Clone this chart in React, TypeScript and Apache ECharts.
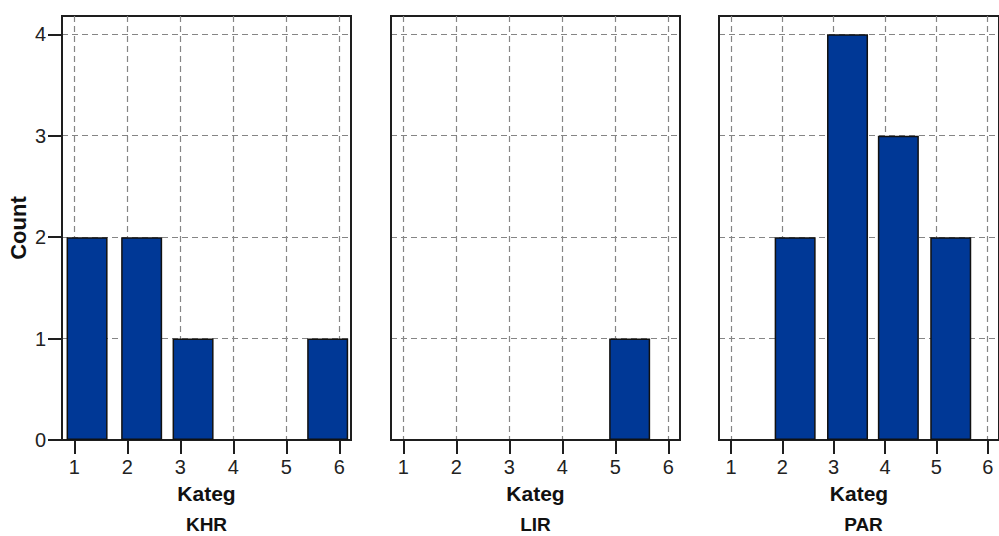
import React, { useEffect, useRef } from "react";
import * as echarts from "echarts";

// Data
const panels = ["KHR", "LIR", "PAR"];
const xTicks = [1, 2, 3, 4, 5, 6];
const yTicks = [0, 1, 2, 3, 4];
const khrX = [1.24, 2.27, 3.24, 5.78];
const khrCount = [2, 2, 1, 1];
const lirX = [5.27];
const lirCount = [1];
const parX = [2.25, 3.27, 4.26, 5.28];
const parCount = [2, 4, 3, 2];
const xName = "Kateg";
const yName = "Count";

const seriesX = [khrX, lirX, parX];
const seriesY = [khrCount, lirCount, parCount];

const FONT = "Liberation Sans, Arial, sans-serif";
const GRID_LEFTS = [62, 391, 719];
const GRID_W = 289;
const GRID_TOP = 16;
const GRID_H = 424;

export default function App() {
  const ref = useRef<HTMLDivElement>(null);
  useEffect(() => {
    if (!ref.current) return;
    const chart = echarts.init(ref.current, undefined, { renderer: "svg" });
    const grids = GRID_LEFTS.map((left) => ({
      left,
      top: GRID_TOP,
      width: GRID_W,
      height: GRID_H,
      show: true,
      borderColor: "#1e1e1e",
      borderWidth: 2,
      backgroundColor: "transparent",
      containLabel: false,
    }));
    const xAxes = panels.map((_, i) => ({
      type: "value",
      gridIndex: i,
      min: 0.767,
      max: 6.22,
      name: xName,
      nameLocation: "middle",
      nameGap: 43,
      nameTextStyle: { fontFamily: FONT, fontSize: 21, fontWeight: "bold", color: "#111" },
      axisLine: { show: true, onZero: false, lineStyle: { color: "#1e1e1e", width: 2 } },
      axisTick: { show: true, customValues: xTicks, length: 14, inside: false, lineStyle: { color: "#1e1e1e", width: 2 } },
      axisLabel: { show: true, customValues: xTicks, margin: 17, fontFamily: FONT, fontSize: 20, color: "#222" },
      splitLine: { show: true, lineStyle: { color: "#858585", type: [6, 4], width: 1.2 } },
    }));
    const yAxes = panels.map((_, i) => ({
      type: "value",
      gridIndex: i,
      min: 0,
      max: 4.18,
      name: i === 0 ? yName : "",
      nameLocation: "middle",
      nameRotate: 90,
      nameGap: 33,
      nameTextStyle: { fontFamily: FONT, fontSize: 22, fontWeight: "bold", color: "#111" },
      axisLine: { show: true, lineStyle: { color: "#1e1e1e", width: 2 } },
      axisTick: { show: i === 0, customValues: yTicks, length: 14, inside: false, lineStyle: { color: "#1e1e1e", width: 2 } },
      axisLabel: { show: i === 0, customValues: yTicks, margin: 16, fontFamily: FONT, fontSize: 20, color: "#222" },
      splitLine: { show: true, lineStyle: { color: "#858585", type: [6, 4], width: 1.2 } },
    }));
    const series = panels.map((p, i) => ({
      type: "bar",
      name: p,
      xAxisIndex: i,
      yAxisIndex: i,
      barWidth: 41,
      data: seriesX[i].map((x, j) => [x, seriesY[i][j]]),
      itemStyle: { color: "#003896", borderColor: "#111", borderWidth: 1.5 },
    }));
    const graphic = panels.map((p, i) => ({
      type: "text",
      x: GRID_LEFTS[i] + GRID_W / 2,
      y: 524,
      style: {
        text: p,
        fontFamily: FONT,
        fontSize: 19,
        fontWeight: "bold",
        fill: "#111",
        textAlign: "center",
        textVerticalAlign: "middle",
      },
    }));
    chart.setOption({
      animation: false,
      backgroundColor: "#ffffff",
      grid: grids,
      xAxis: xAxes,
      yAxis: yAxes,
      series,
      graphic,
    });
    return () => chart.dispose();
  }, []);
  return (
    <div
      ref={ref}
      style={{ position: "fixed", left: 0, top: 0, width: 999, height: 536 }}
    />
  );
}
